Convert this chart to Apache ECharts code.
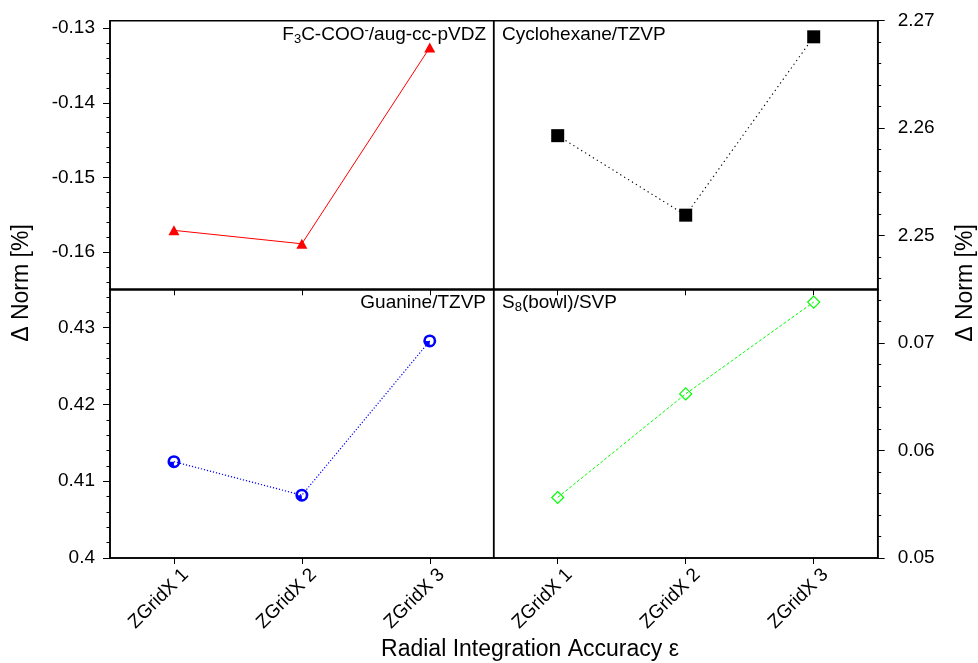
<!DOCTYPE html>
<html>
<head>
<meta charset="utf-8">
<script src="https://cdn.jsdelivr.net/npm/echarts@6/dist/echarts.min.js"></script>
<style>
  html, body { margin: 0; padding: 0; background: #fff; }
  #chart { width: 978px; height: 663px; }
</style>
</head>
<body>
<div id="chart"></div>
<script>
// Grid levels along the shared x axis
const categories = ['ZGridX 1', 'ZGridX 2', 'ZGridX 3'];

// Δ Norm [%] per system
const trifluoroacetate = [-0.1571, -0.1589, -0.1326];
const cyclohexane = [2.2593, 2.2519, 2.2685];
const guanine = [0.41255, 0.40818, 0.42827];
const s8bowl = [0.05563, 0.06527, 0.07381];

// Labelled y ticks of each panel
const ticksTL = [-0.16, -0.15, -0.14, -0.13];
const ticksTR = [2.25, 2.26, 2.27];
const ticksBL = [0.4, 0.41, 0.42, 0.43];
const ticksBR = [0.05, 0.06, 0.07];

// y ranges of each panel
const rangeTL = [-0.165, -0.129];
const rangeTR = [2.245, 2.27];
const rangeBL = [0.4, 0.435];
const rangeBR = [0.05, 0.075];

const FONT = '"Liberation Sans", Arial, Helvetica, sans-serif';

// minor ticks every 0.002 inside a range
function minorTicks(range, step) {
  const out = [];
  const start = Math.ceil(range[0] / step - 1e-9);
  const end = Math.floor(range[1] / step + 1e-9);
  for (let k = start; k <= end; k++) out.push(+(k * step).toFixed(4));
  return out;
}

// open ring with a filled lower-left quarter
const ringSymbol = 'path://M0,-6 A6,6 0 1,1 0,6 A6,6 0 1,1 0,-6 Z ' +
  'M0,-3.6 A3.6,3.6 0 1,0 0,3.6 A3.6,3.6 0 1,0 0,-3.6 Z ' +
  'M0,0 L-3.6,0 A3.6,3.6 0 0,0 0,3.6 Z';

const L = 110, MID = 493.7, R = 877.7;
const T = 20.7, HMID = 289.3, B = 558;

const panels = [
  { rect: [L, T, MID - L, HMID - T], side: 'left', range: rangeTL, ticks: ticksTL, data: trifluoroacetate, bottom: false,
    line: { color: '#ff0000', width: 1, type: 'solid' },
    symbol: 'triangle', symbolSize: [11, 10], item: { color: '#ff0000' } },
  { rect: [MID, T, R - MID, HMID - T], side: 'right', range: rangeTR, ticks: ticksTR, data: cyclohexane, bottom: false,
    line: { color: '#000000', width: 1.1, type: [1.3, 3.3] },
    symbol: 'rect', symbolSize: 13, item: { color: '#000000' } },
  { rect: [L, HMID, MID - L, B - HMID], side: 'left', range: rangeBL, ticks: ticksBL, data: guanine, bottom: true,
    line: { color: '#0000ff', width: 1.2, type: [1.2, 1.9] },
    symbol: ringSymbol, symbolSize: 13, item: { color: '#0000ff' } },
  { rect: [MID, HMID, R - MID, B - HMID], side: 'right', range: rangeBR, ticks: ticksBR, data: s8bowl, bottom: true,
    line: { color: '#00ff00', width: 1, type: [3, 2] },
    symbol: 'diamond', symbolSize: 12, item: { color: 'rgba(0,0,0,0)', borderColor: '#00ff00', borderWidth: 1.2 } }
];

const grid = [], xAxis = [], yAxis = [], series = [];
panels.forEach((p, i) => {
  grid.push({
    left: p.rect[0], top: p.rect[1], width: p.rect[2], height: p.rect[3],
    show: true, borderColor: '#000', borderWidth: 1.5, backgroundColor: 'transparent',
    containLabel: false
  });
  xAxis.push({
    type: 'category', gridIndex: i, data: categories, boundaryGap: true,
    axisLine: { show: true, lineStyle: { color: '#000', width: 1.5 } },
    axisTick: { show: true, alignWithLabel: true, inside: false, length: 6, lineStyle: { color: '#000', width: 1 } },
    axisLabel: {
      show: p.bottom, rotate: 45, margin: 12, color: '#000',
      fontFamily: FONT, fontSize: 19,
      align: 'right', verticalAlign: 'top', padding: [0, -7, 0, 0]
    },
    splitLine: { show: false }
  });
  const mainIndex = yAxis.length;
  yAxis.push({
    type: 'value', gridIndex: i, position: p.side, min: p.range[0], max: p.range[1],
    axisLine: { show: true, lineStyle: { color: '#000', width: 1.5 } },
    axisTick: { show: true, inside: false, length: 7, customValues: p.ticks, lineStyle: { color: '#000', width: 1 } },
    axisLabel: {
      show: true, customValues: p.ticks, color: '#000', fontFamily: FONT, fontSize: 19,
      margin: p.side === 'left' ? 15 : 20,
      formatter: v => String(+v.toFixed(4))
    },
    splitLine: { show: false }
  });
  yAxis.push({
    type: 'value', gridIndex: i, position: p.side, min: p.range[0], max: p.range[1],
    axisLine: { show: false },
    axisTick: { show: true, inside: false, length: 3.5, customValues: minorTicks(p.range, 0.002), lineStyle: { color: '#000', width: 1 } },
    axisLabel: { show: false },
    splitLine: { show: false }
  });
  series.push({
    type: 'line', xAxisIndex: i, yAxisIndex: mainIndex, data: p.data,
    lineStyle: p.line, symbol: p.symbol, symbolSize: p.symbolSize,
    itemStyle: p.item, showSymbol: true, z: 3
  });
});

const labelStyle = { font: '19px ' + FONT, fill: '#000', textVerticalAlign: 'middle' };
const titleFont = '23px ' + FONT;

const option = {
  backgroundColor: '#ffffff',
  animation: false,
  grid, xAxis, yAxis, series,
  graphic: [
    {
      type: 'text', x: 486, y: 35, z: 10,
      style: {
        text: '{n|F}{sub|3}{n|C-COO}{sup|-}{n|/aug-cc-pVDZ}',
        textAlign: 'right', textVerticalAlign: 'middle',
        rich: {
          n: { fontFamily: FONT, fontSize: 19, color: '#000', lineHeight: 22, verticalAlign: 'middle' },
          sub: { fontFamily: FONT, fontSize: 13, color: '#000', lineHeight: 11, verticalAlign: 'bottom' },
          sup: { fontFamily: FONT, fontSize: 13, color: '#000', lineHeight: 12, verticalAlign: 'top' }
        }
      }
    },
    { type: 'text', x: 502, y: 35, z: 10, style: Object.assign({ text: 'Cyclohexane/TZVP', textAlign: 'left' }, labelStyle) },
    { type: 'text', x: 486, y: 303, z: 10, style: Object.assign({ text: 'Guanine/TZVP', textAlign: 'right' }, labelStyle) },
    {
      type: 'text', x: 502, y: 303, z: 10,
      style: {
        text: '{n|S}{sub|8}{n|(bowl)/SVP}',
        textAlign: 'left', textVerticalAlign: 'middle',
        rich: {
          n: { fontFamily: FONT, fontSize: 19, color: '#000', lineHeight: 22, verticalAlign: 'middle' },
          sub: { fontFamily: FONT, fontSize: 13, color: '#000', lineHeight: 11, verticalAlign: 'bottom' }
        }
      }
    },
    {
      type: 'text', x: 22, y: 283, rotation: Math.PI / 2, z: 10,
      style: { text: 'Δ Norm [%]', font: titleFont, fill: '#000', textAlign: 'center', textVerticalAlign: 'middle' }
    },
    {
      type: 'text', x: 966, y: 283, rotation: Math.PI / 2, z: 10,
      style: { text: 'Δ Norm [%]', font: titleFont, fill: '#000', textAlign: 'center', textVerticalAlign: 'middle' }
    },
    {
      type: 'text', x: 530, y: 650, z: 10,
      style: { text: 'Radial Integration Accuracy ε', font: titleFont, fill: '#000', textAlign: 'center', textVerticalAlign: 'middle' }
    }
  ]
};

const chart = echarts.init(document.getElementById('chart'), null, { renderer: 'canvas' });
chart.setOption(option);
</script>
</body>
</html>
